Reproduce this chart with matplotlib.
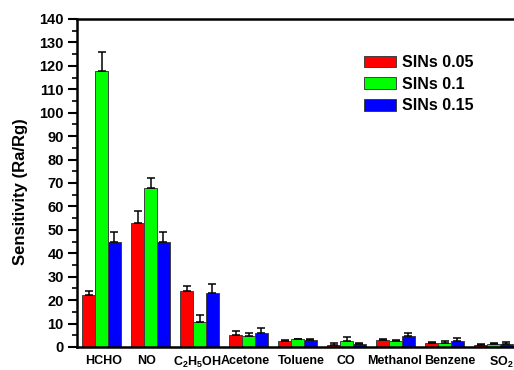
import matplotlib
matplotlib.use("Agg")
import matplotlib.pyplot as plt
import numpy as np

plt.rcParams['font.family'] = ['Liberation Sans', 'DejaVu Sans']
plt.rcParams['mathtext.fontset'] = 'custom'
plt.rcParams['mathtext.rm'] = 'Liberation Sans:bold'
plt.rcParams['mathtext.it'] = 'Liberation Sans:bold'
plt.rcParams['mathtext.bf'] = 'Liberation Sans:bold'
plt.rcParams['mathtext.default'] = 'rm'

categories = ['HCHO', 'NO', 'C$_2$H$_5$OH', 'Acetone', 'Toluene', 'CO',
              'Methanol', 'Benzene', 'SO$_2$']
series_names = ['SINs 0.05', 'SINs 0.1', 'SINs 0.15']
sins_005 = [22, 53, 24, 5, 2.5, 1.0, 2.9, 1.9, 0.9]
sins_005_err = [2, 5, 2, 2, 0.5, 0.7, 0.5, 0.4, 0.4]
sins_01 = [118, 68, 10.5, 4.5, 3.3, 2.6, 2.4, 1.6, 1.3]
sins_01_err = [8, 4, 3, 1.5, 0.3, 1.5, 0.5, 0.8, 0.6]
sins_015 = [45, 45, 23, 6, 3.2, 1.1, 4.7, 2.7, 1.3]
sins_015_err = [4, 4, 4, 2, 0.3, 0.6, 1.1, 1.0, 0.7]
colors = ['#FF0000', '#00FF00', '#0000FF']
# layout: small horizontal shifts of the category labels (as in the original)
label_shift = [0.05, -0.09, -0.05, -0.07, 0.07, -0.02, -0.02, 0.10, 0.15]

fig = plt.figure(figsize=(5.14, 3.70), dpi=100)
ax = fig.add_axes([77/514, 1-347/370, (518-77)/514, (347-19)/370])

x = np.arange(len(categories))
w = 0.265
data = [(sins_005, sins_005_err), (sins_01, sins_01_err), (sins_015, sins_015_err)]
for k, ((vals, errs), c, name) in enumerate(zip(data, colors, series_names)):
    ax.bar(x + (k-1)*w, vals, width=w, color=c, edgecolor='#404040', linewidth=0.7,
           label=name, zorder=2)
    ax.errorbar(x + (k-1)*w, vals, yerr=[np.zeros(len(vals)), errs], fmt='none',
                ecolor='black', elinewidth=1.1, capsize=3, capthick=1.1, zorder=3)

ax.set_xlim(-0.5, 8.5)
ax.set_ylim(0, 140)
ax.set_yticks(np.arange(0, 141, 10))
ax.set_yticks(np.arange(5, 140, 10), minor=True)
ax.set_xticks(x + np.array(label_shift))
ax.set_xticklabels(categories, fontsize=9, fontweight='bold')
ax.tick_params(axis='x', length=0, pad=5.5)
ax.tick_params(axis='y', which='major', direction='out', length=6.5, width=1.5,
               labelsize=10.5, pad=3)
ax.tick_params(axis='y', which='minor', direction='out', length=3.5, width=1.2)
for lab in ax.get_yticklabels():
    lab.set_fontweight('bold')
for s in ['left', 'bottom', 'top']:
    ax.spines[s].set_linewidth(1.8)
ax.spines['right'].set_visible(False)
ax.set_ylabel('Sensitivity (Ra/Rg)', fontsize=12, fontweight='bold')
ax.yaxis.set_label_coords(-0.11, 0.473)

leg = fig.legend(loc='upper left', bbox_to_anchor=(364/514, 1-55/370), frameon=False,
                 handlelength=2.0, handleheight=0.75, handletextpad=0.35,
                 labelspacing=0.42, borderpad=0, borderaxespad=0,
                 prop={'weight': 'bold', 'size': 11.5})

fig.savefig('out.png', dpi=100)
